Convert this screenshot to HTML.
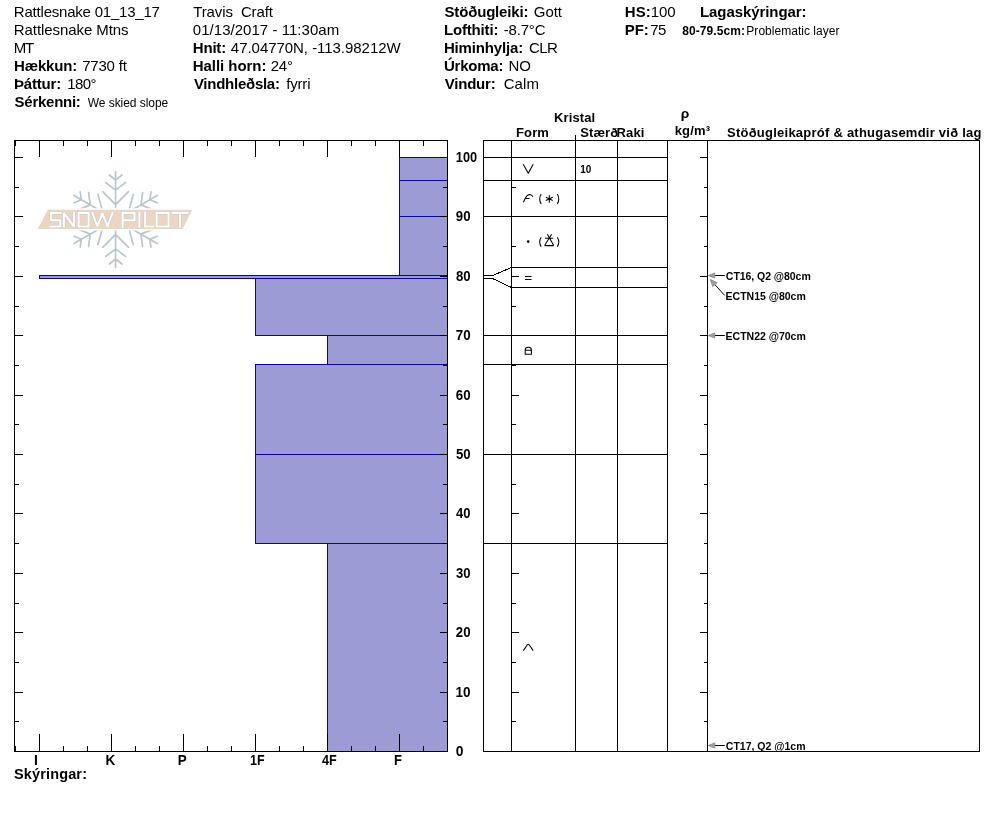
<!DOCTYPE html>
<html><head><meta charset="utf-8"><title>Snow profile</title>
<style>
html,body{margin:0;padding:0;background:#fff;width:994px;height:840px;overflow:hidden}
svg{display:block;font-family:"Liberation Sans", sans-serif;will-change:transform}
</style></head><body>
<svg width="994" height="840" viewBox="0 0 994 840" font-family='"Liberation Sans", sans-serif' fill="#000">
<text x="13.87" y="16.8" font-size="15" textLength="145.98" lengthAdjust="spacing">Rattlesnake 01_13_17</text>
<text x="13.77" y="34.8" font-size="15" textLength="114.77" lengthAdjust="spacing">Rattlesnake Mtns</text>
<text x="13.77" y="52.8" font-size="15" textLength="20.47" lengthAdjust="spacing">MT</text>
<text x="14.00" y="70.8" font-size="15" font-weight="bold" textLength="63.35" lengthAdjust="spacing">Hækkun:</text>
<text x="82.13" y="70.8" font-size="15" textLength="44.78" lengthAdjust="spacing">7730 ft</text>
<text x="14.00" y="88.8" font-size="15" font-weight="bold" textLength="47.25" lengthAdjust="spacing">Þáttur:</text>
<text x="67.26" y="88.8" font-size="15" textLength="29.14" lengthAdjust="spacing">180°</text>
<text x="14.57" y="106.8" font-size="15" font-weight="bold" textLength="66.28" lengthAdjust="spacing">Sérkenni:</text>
<text x="87.75" y="106.8" font-size="12" textLength="80.49" lengthAdjust="spacing">We skied slope</text>
<text x="193.26" y="16.8" font-size="15" textLength="79.65" lengthAdjust="spacing">Travis&#160; Craft</text>
<text x="192.81" y="34.8" font-size="15" textLength="146.37" lengthAdjust="spacing">01/13/2017 - 11:30am</text>
<text x="192.80" y="52.8" font-size="15" font-weight="bold" textLength="33.35" lengthAdjust="spacing">Hnit:</text>
<text x="230.86" y="52.8" font-size="15" textLength="169.80" lengthAdjust="spacing">47.04770N, -113.98212W</text>
<text x="192.80" y="70.8" font-size="15" font-weight="bold" textLength="73.65" lengthAdjust="spacing">Halli horn:</text>
<text x="270.75" y="70.8" font-size="15" textLength="22.16" lengthAdjust="spacing">24°</text>
<text x="193.90" y="88.8" font-size="15" font-weight="bold" textLength="86.05" lengthAdjust="spacing">Vindhleðsla:</text>
<text x="286.19" y="88.8" font-size="15" textLength="24.32" lengthAdjust="spacing">fyrri</text>
<text x="444.47" y="16.8" font-size="15" font-weight="bold" textLength="83.98" lengthAdjust="spacing">Stöðugleiki:</text>
<text x="533.85" y="16.8" font-size="15" textLength="28.06" lengthAdjust="spacing">Gott</text>
<text x="443.90" y="34.8" font-size="15" font-weight="bold" textLength="54.55" lengthAdjust="spacing">Lofthiti:</text>
<text x="503.83" y="34.8" font-size="15" textLength="41.64" lengthAdjust="spacing">-8.7°C</text>
<text x="443.90" y="52.8" font-size="15" font-weight="bold" textLength="79.25" lengthAdjust="spacing">Himinhylja:</text>
<text x="528.94" y="52.8" font-size="15" textLength="28.96" lengthAdjust="spacing">CLR</text>
<text x="444.00" y="70.8" font-size="15" font-weight="bold" textLength="59.44" lengthAdjust="spacing">Úrkoma:</text>
<text x="508.47" y="70.8" font-size="15" textLength="22.35" lengthAdjust="spacing">NO</text>
<text x="444.80" y="88.8" font-size="15" font-weight="bold" textLength="50.85" lengthAdjust="spacing">Vindur:</text>
<text x="503.74" y="88.8" font-size="15" textLength="35.15" lengthAdjust="spacing">Calm</text>
<text x="624.80" y="16.8" font-size="15" font-weight="bold" textLength="25.85" lengthAdjust="spacing">HS:</text>
<text x="650.86" y="16.8" font-size="15" textLength="24.83" lengthAdjust="spacing">100</text>
<text x="624.80" y="34.8" font-size="15" font-weight="bold" textLength="23.85" lengthAdjust="spacing">PF:</text>
<text x="650.23" y="34.8" font-size="15" textLength="16.20" lengthAdjust="spacing">75</text>
<text x="700.00" y="16.8" font-size="15" font-weight="bold" textLength="106.55" lengthAdjust="spacing">Lagaskýringar:</text>
<text x="682.32" y="34.8" font-size="12" font-weight="bold" textLength="62.64" lengthAdjust="spacing">80-79.5cm:</text>
<text x="746.32" y="34.8" font-size="12" textLength="93.18" lengthAdjust="spacing">Problematic layer</text>
<g transform="translate(115.6,219.5)" stroke="#b9c6ce" stroke-width="1.7" fill="none" stroke-linecap="round">
<path transform="rotate(0)" d="M0,0 L0,-48 M0,-14.80 L-12.90,-27.80 M0,-14.80 L12.90,-27.80 M0,-29.30 L-9.90,-36.90 M0,-29.30 L9.90,-36.90 M0,-39.50 L-6.30,-44.50 M0,-39.50 L6.30,-44.50"/>
<path transform="rotate(60)" d="M0,0 L0,-48 M0,-14.80 L-12.90,-27.80 M0,-14.80 L12.90,-27.80 M0,-29.30 L-9.90,-36.90 M0,-29.30 L9.90,-36.90 M0,-39.50 L-6.30,-44.50 M0,-39.50 L6.30,-44.50"/>
<path transform="rotate(120)" d="M0,0 L0,-48 M0,-14.80 L-12.90,-27.80 M0,-14.80 L12.90,-27.80 M0,-29.30 L-9.90,-36.90 M0,-29.30 L9.90,-36.90 M0,-39.50 L-6.30,-44.50 M0,-39.50 L6.30,-44.50"/>
<path transform="rotate(180)" d="M0,0 L0,-48 M0,-14.80 L-12.90,-27.80 M0,-14.80 L12.90,-27.80 M0,-29.30 L-9.90,-36.90 M0,-29.30 L9.90,-36.90 M0,-39.50 L-6.30,-44.50 M0,-39.50 L6.30,-44.50"/>
<path transform="rotate(240)" d="M0,0 L0,-48 M0,-14.80 L-12.90,-27.80 M0,-14.80 L12.90,-27.80 M0,-29.30 L-9.90,-36.90 M0,-29.30 L9.90,-36.90 M0,-39.50 L-6.30,-44.50 M0,-39.50 L6.30,-44.50"/>
<path transform="rotate(300)" d="M0,0 L0,-48 M0,-14.80 L-12.90,-27.80 M0,-14.80 L12.90,-27.80 M0,-29.30 L-9.90,-36.90 M0,-29.30 L9.90,-36.90 M0,-39.50 L-6.30,-44.50 M0,-39.50 L6.30,-44.50"/>
</g>
<polygon points="47.8,209.8 192.5,209.8 182.5,228.9 37.8,228.9" fill="#fff" stroke="#fff" stroke-width="3.2" stroke-linejoin="miter"/>
<polygon points="47.8,209.8 192.5,209.8 182.5,228.9 37.8,228.9" fill="#eed5c0"/>
<path d="M61.5,212.9 H51.1 V220.2 H60.3 V226.5 H49.9 M63.8,227.4 V212.9 L73.9,226.5 V212.0 M78.6,212.9 H88.6 V226.5 H78.6 Z M92.0,212.0 L97.3,226.5 L102.4,213.20000000000002 L107.5,226.5 L112.8,212.0 M122.6,227.7 V212.9 H134.5 V220.2 H122.6 M139.4,211.70000000000002 V227.7 M145.2,211.70000000000002 V226.5 H154.4 M156.6,212.9 H168.5 V226.5 H156.6 Z M171.7,212.9 H188.2 M180.0,212.9 V227.7" fill="none" stroke="#bcc6cd" stroke-width="3.1" stroke-linejoin="miter" stroke-miterlimit="1.5"/>
<path d="M61.5,212.9 H51.1 V220.2 H60.3 V226.5 H49.9 M63.8,227.4 V212.9 L73.9,226.5 V212.0 M78.6,212.9 H88.6 V226.5 H78.6 Z M92.0,212.0 L97.3,226.5 L102.4,213.20000000000002 L107.5,226.5 L112.8,212.0 M122.6,227.7 V212.9 H134.5 V220.2 H122.6 M139.4,211.70000000000002 V227.7 M145.2,211.70000000000002 V226.5 H154.4 M156.6,212.9 H168.5 V226.5 H156.6 Z M171.7,212.9 H188.2 M180.0,212.9 V227.7" fill="none" stroke="#ffffff" stroke-width="2.1" stroke-linejoin="miter" stroke-miterlimit="1.5"/>
<rect x="399.5" y="157.5" width="48" height="23" fill="#9b9bd5" stroke="#0a05a0" stroke-width="1"/>
<rect x="399.5" y="180.5" width="48" height="36" fill="#9b9bd5" stroke="#0a05a0" stroke-width="1"/>
<rect x="399.5" y="216.5" width="48" height="59" fill="#9b9bd5" stroke="#0a05a0" stroke-width="1"/>
<rect x="39.5" y="275.5" width="408" height="3" fill="#9b9bd5" stroke="#0a05a0" stroke-width="1"/>
<rect x="255.5" y="278.5" width="192" height="57" fill="#9b9bd5" stroke="#0a05a0" stroke-width="1"/>
<rect x="327.5" y="335.5" width="120" height="29" fill="#9b9bd5" stroke="#0a05a0" stroke-width="1"/>
<rect x="255.5" y="364.5" width="192" height="90" fill="#9b9bd5" stroke="#0a05a0" stroke-width="1"/>
<rect x="255.5" y="454.5" width="192" height="89" fill="#9b9bd5" stroke="#0a05a0" stroke-width="1"/>
<rect x="327.5" y="543.5" width="120" height="208" fill="#9b9bd5" stroke="#0a05a0" stroke-width="1"/>
<rect x="14.5" y="140.5" width="433" height="611" fill="none" stroke="#000" stroke-width="1"/>
<path d="M15.5,140 v6 M15.5,752 v-6 M39.5,140 v17 M39.5,752 v-18 M63.5,140 v6 M63.5,752 v-6 M87.5,140 v6 M87.5,752 v-6 M111.5,140 v17 M111.5,752 v-18 M135.5,140 v6 M135.5,752 v-6 M159.5,140 v6 M159.5,752 v-6 M183.5,140 v17 M183.5,752 v-18 M207.5,140 v6 M207.5,752 v-6 M231.5,140 v6 M231.5,752 v-6 M255.5,140 v17 M255.5,752 v-18 M279.5,140 v6 M279.5,752 v-6 M303.5,140 v6 M303.5,752 v-6 M327.5,140 v17 M327.5,752 v-18 M351.5,140 v6 M351.5,752 v-6 M375.5,140 v6 M375.5,752 v-6 M399.5,140 v17 M399.5,752 v-18 M423.5,140 v6 M423.5,752 v-6 M14,751.5 h9 M448,751.5 h-8 M14,721.5 h5 M448,721.5 h-5 M14,692.5 h9 M448,692.5 h-8 M14,662.5 h5 M448,662.5 h-5 M14,632.5 h9 M448,632.5 h-8 M14,603.5 h5 M448,603.5 h-5 M14,573.5 h9 M448,573.5 h-8 M14,543.5 h5 M448,543.5 h-5 M14,513.5 h9 M448,513.5 h-8 M14,484.5 h5 M448,484.5 h-5 M14,454.5 h9 M448,454.5 h-8 M14,424.5 h5 M448,424.5 h-5 M14,395.5 h9 M448,395.5 h-8 M14,365.5 h5 M448,365.5 h-5 M14,335.5 h9 M448,335.5 h-8 M14,306.5 h5 M448,306.5 h-5 M14,276.5 h9 M448,276.5 h-8 M14,246.5 h5 M448,246.5 h-5 M14,216.5 h9 M448,216.5 h-8 M14,187.5 h5 M448,187.5 h-5 M14,157.5 h9 M448,157.5 h-8" stroke="#000" stroke-width="1" fill="none"/>
<text transform="translate(455.85,756.0) scale(1.0056,1)" font-size="13.8" font-weight="bold">0</text>
<text transform="translate(455.44,697.0) scale(0.9846,1)" font-size="13.8" font-weight="bold">10</text>
<text transform="translate(455.84,637.0) scale(0.9577,1)" font-size="13.8" font-weight="bold">20</text>
<text transform="translate(456.00,578.0) scale(0.9470,1)" font-size="13.8" font-weight="bold">30</text>
<text transform="translate(456.10,518.0) scale(0.9400,1)" font-size="13.8" font-weight="bold">40</text>
<text transform="translate(455.89,459.0) scale(0.9541,1)" font-size="13.8" font-weight="bold">50</text>
<text transform="translate(455.82,400.0) scale(0.9595,1)" font-size="13.8" font-weight="bold">60</text>
<text transform="translate(455.73,340.0) scale(0.9654,1)" font-size="13.8" font-weight="bold">70</text>
<text transform="translate(455.88,281.0) scale(0.9550,1)" font-size="13.8" font-weight="bold">80</text>
<text transform="translate(455.84,221.0) scale(0.9577,1)" font-size="13.8" font-weight="bold">90</text>
<text transform="translate(455.79,162.0) scale(0.9264,1)" font-size="13.8" font-weight="bold">100</text>
<text transform="translate(34.07,765.0) scale(1.0061,1)" font-size="13.8" font-weight="bold">I</text>
<text transform="translate(105.59,765.0) scale(0.9871,1)" font-size="13.8" font-weight="bold">K</text>
<text transform="translate(177.80,765.0) scale(0.9732,1)" font-size="13.8" font-weight="bold">P</text>
<text transform="translate(250.11,765.0) scale(0.9097,1)" font-size="13.8" font-weight="bold">1F</text>
<text transform="translate(322.01,765.0) scale(0.9162,1)" font-size="13.8" font-weight="bold">4F</text>
<text transform="translate(393.93,765.0) scale(0.9427,1)" font-size="13.8" font-weight="bold">F</text>
<text x="14.08" y="778.9" font-size="14.5" font-weight="bold" textLength="72.91" lengthAdjust="spacing">Skýringar:</text>
<path d="M492.5,275.5 L511.5,267.5 M492.5,278.5 L511.5,287.5" stroke="#000" stroke-width="1" fill="none" shape-rendering="crispEdges"/>
<path d="M483.5,140 V752 M511.5,140 V752 M575.5,140 V752 M617.5,140 V752 M667.5,140 V752 M707.5,140 V752 M979.5,140 V752 M575.5,135 V140 M483,140.5 H980 M483,751.5 H980 M483,157.5 H667 M483,180.5 H667 M483,216.5 H667 M483,335.5 H667 M483,364.5 H667 M483,454.5 H667 M483,543.5 H667 M511,267.5 H667 M511,287.5 H667 M483,275.5 H492.5 M483,278.5 H492.5 M511,751.5 h8 M708,751.5 h-8 M511,721.5 h5 M708,721.5 h-4 M511,692.5 h8 M708,692.5 h-8 M511,662.5 h5 M708,662.5 h-4 M511,632.5 h8 M708,632.5 h-8 M511,603.5 h5 M708,603.5 h-4 M511,573.5 h8 M708,573.5 h-8 M511,543.5 h5 M708,543.5 h-4 M511,513.5 h8 M708,513.5 h-8 M511,484.5 h5 M708,484.5 h-4 M511,454.5 h8 M708,454.5 h-8 M511,424.5 h5 M708,424.5 h-4 M511,395.5 h8 M708,395.5 h-8 M511,365.5 h5 M708,365.5 h-4 M511,335.5 h8 M708,335.5 h-8 M511,306.5 h5 M708,306.5 h-4 M511,276.5 h8 M708,276.5 h-8 M511,246.5 h5 M708,246.5 h-4 M511,216.5 h8 M708,216.5 h-8 M511,187.5 h5 M708,187.5 h-4 M511,157.5 h8 M708,157.5 h-8" stroke="#000" stroke-width="1" fill="none"/>
<text x="554.03" y="121.9" font-size="13" font-weight="bold" textLength="41.09" lengthAdjust="spacing">Kristal</text>
<text x="516.03" y="136.8" font-size="13" font-weight="bold" textLength="32.88" lengthAdjust="spacing">Form</text>
<text x="580.23" y="136.8" font-size="13" font-weight="bold" textLength="37.88" lengthAdjust="spacing">Stærð</text>
<text x="616.53" y="136.8" font-size="13" font-weight="bold" textLength="27.89" lengthAdjust="spacing">Raki</text>
<text transform="translate(680.78,118.2) scale(1.1066,1)" font-size="12.5" font-weight="bold">ρ</text>
<text x="674.69" y="134.9" font-size="13" font-weight="bold" textLength="35.29" lengthAdjust="spacing">kg/m³</text>
<text x="727.03" y="137" font-size="13" font-weight="bold" textLength="254.44" lengthAdjust="spacing">Stöðugleikapróf &amp; athugasemdir við lag</text>
<path d="M523.2,164.2 L528.3,173.3 L533.2,164.2 M523.4,202.3 L525.5,197.8 Q527.2,194.4 529.8,194.4 Q531.9,194.5 532.9,196.7 M525.4,198.5 H529.5 M541.2,194 Q538.2,199 541.2,204 M557.3,194 Q560.3,199 557.3,204 M549.30,195.10 L549.30,202.70 M545.86,197.29 L552.74,200.51 M552.74,197.29 L545.86,200.51 M541.2,237.2 Q538.2,242 541.2,246.8 M557.3,237.2 Q560.3,242 557.3,246.8 M544.6,245.6 H553.7 M544.6,245.6 L551.6,234.2 M553.7,245.6 L547.4,234.2 M545,238.2 H553.2 M525,276.5 H531.5 M525,279.5 H531.5 M525.2,354.3 V350 Q525.2,347.2 528.3,347.2 Q531.4,347.2 531.4,350 V354.3 Z M525.2,350.2 H531.4 M523.3,650.6 L527.3,644.8 Q528.2,643.8 529.1,644.8 L533.2,650.6" stroke="#000" stroke-width="1.05" fill="none" stroke-linejoin="round"/>
<circle cx="528.2" cy="241.6" r="1.3" fill="#000"/>
<circle cx="549.3" cy="198.9" r="1.1" fill="#000"/>
<text transform="translate(580.28,172.9) scale(0.9016,1)" font-size="11" font-weight="bold">10</text>
<path d="M724.8,275.5 L714.70,275.56" stroke="#000" stroke-width="1" fill="none"/>
<path d="M708.3,275.6 L714.72,278.16 L714.70,275.56 L714.68,272.96 Z" fill="#a0a0a0" stroke="#7a7a7a" stroke-width="0.7" stroke-linejoin="round"/>
<path d="M724.6,295.4 L714.96,284.62" stroke="#000" stroke-width="1" fill="none"/>
<path d="M710.3,279.4 L712.73,286.62 L714.96,284.62 L717.20,282.62 Z" fill="#a0a0a0" stroke="#7a7a7a" stroke-width="0.7" stroke-linejoin="round"/>
<path d="M724.8,335.5 L714.70,335.50" stroke="#000" stroke-width="1" fill="none"/>
<path d="M708.3,335.5 L714.70,338.10 L714.70,335.50 L714.70,332.90 Z" fill="#a0a0a0" stroke="#7a7a7a" stroke-width="0.7" stroke-linejoin="round"/>
<path d="M724.8,745.5 L714.70,745.50" stroke="#000" stroke-width="1" fill="none"/>
<path d="M708.3,745.5 L714.70,748.10 L714.70,745.50 L714.70,742.90 Z" fill="#a0a0a0" stroke="#7a7a7a" stroke-width="0.7" stroke-linejoin="round"/>
<text x="725.87" y="279.8" font-size="10.5" font-weight="bold" textLength="84.88" lengthAdjust="spacing">CT16, Q2 @80cm</text>
<text x="725.60" y="299.9" font-size="10.5" font-weight="bold" textLength="80.15" lengthAdjust="spacing">ECTN15 @80cm</text>
<text x="725.60" y="339.9" font-size="10.5" font-weight="bold" textLength="80.15" lengthAdjust="spacing">ECTN22 @70cm</text>
<text x="725.87" y="749.9" font-size="10.5" font-weight="bold" textLength="79.68" lengthAdjust="spacing">CT17, Q2 @1cm</text>
</svg>
</body></html>
